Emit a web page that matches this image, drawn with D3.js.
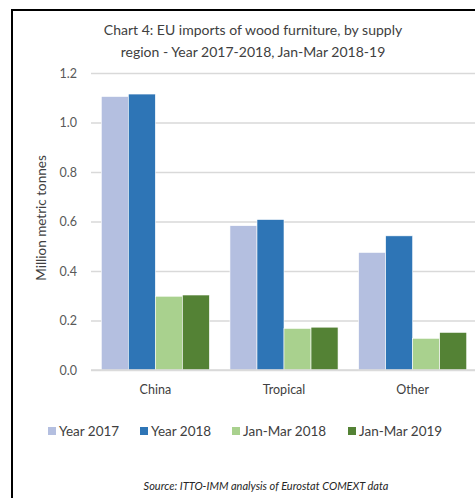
<!DOCTYPE html>
<html>
<head>
<meta charset="utf-8">
<script src="https://cdn.jsdelivr.net/npm/d3@7"></script>
<style>
  body { margin: 0; background: #fff; }
  text { font-family: Lato, "Open Sans", sans-serif; }
</style>
</head>
<body>
<svg id="svg" width="475" height="498"></svg>
<script>
const regions = ['China', 'Tropical', 'Other']
const seriesNames = ['Year 2017', 'Year 2018', 'Jan-Mar 2018', 'Jan-Mar 2019']
const year2017 = [1.105, 0.583, 0.475]
const year2018 = [1.115, 0.608, 0.542]
const janMar2018 = [0.298, 0.168, 0.128]
const janMar2019 = [0.303, 0.173, 0.152]
const yTicks = [0, 0.2, 0.4, 0.6, 0.8, 1.0, 1.2]
const colors = ['#b4bfe0', '#2e75b6', '#a9d18e', '#548235']

const seriesValues = [year2017, year2018, janMar2018, janMar2019]

const svg = d3.select('#svg')
const plotLeft = 91
const plotRight = 477
const plotTop = 73
const plotBottom = 370

// frame
svg.append('path')
  .attr('d', `M12,499 L12,10 L480,10`)
  .attr('fill', 'none')
  .attr('stroke', '#000')
  .attr('stroke-width', 2)

svg.append('text')
  .attr('x', 253).attr('y', 35)
  .attr('text-anchor', 'middle')
  .attr('font-size', 14)
  .attr('fill', '#404040')
  .text('Chart 4: EU imports of wood furniture, by supply')
svg.append('text')
  .attr('x', 253).attr('y', 57)
  .attr('text-anchor', 'middle')
  .attr('font-size', 14)
  .attr('fill', '#404040')
  .text('region - Year 2017-2018, Jan-Mar 2018-19')

const xScale = d3.scaleBand()
  .domain(regions)
  .range([plotLeft, plotRight])
  .paddingInner(0.16)
  .paddingOuter(0.08)

const xInner = d3.scaleBand()
  .domain(seriesNames)
  .range([0, xScale.bandwidth()])

const yScale = d3.scaleLinear()
  .domain([0, 1.2])
  .range([plotBottom, plotTop])

const yAxis = d3.axisLeft(yScale)
  .tickValues(yTicks)
  .tickFormat(d3.format('.1f'))
  .tickSize(-(plotRight - plotLeft))
  .tickPadding(14)

svg.append('g')
  .attr('transform', `translate(${plotLeft}, 0)`)
  .call(yAxis)
  .call(g => g.select('.domain').remove())
  .call(g => g.selectAll('.tick line').attr('stroke', '#d9d9d9').attr('stroke-width', 1.3))
  .call(g => g.selectAll('.tick text').attr('font-size', 12.5).attr('fill', '#595959')
    .attr('font-family', 'Lato, sans-serif'))

svg.append('text')
  .attr('transform', 'translate(46, 218) rotate(-90)')
  .attr('text-anchor', 'middle')
  .attr('font-size', 13.5)
  .attr('fill', '#404040')
  .text('Million metric tonnes')

const groups = svg.append('g')
  .selectAll('g')
  .data(regions)
  .join('g')
  .attr('transform', d => `translate(${xScale(d)}, 0)`)

groups.selectAll('rect')
  .data((d, i) => seriesNames.map((s, j) => ({ s, j, v: seriesValues[j][i] })))
  .join('rect')
  .attr('x', d => xInner(d.s))
  .attr('y', d => yScale(d.v))
  .attr('width', xInner.bandwidth())
  .attr('height', d => plotBottom - yScale(d.v))
  .attr('fill', d => colors[d.j])
  .attr('stroke', '#fff')
  .attr('stroke-width', 0.6)

const xAxis = d3.axisBottom(xScale).tickSize(0).tickPadding(15)
svg.append('g')
  .attr('transform', `translate(0, ${plotBottom})`)
  .call(xAxis)
  .call(g => g.select('.domain').attr('stroke', '#d9d9d9').attr('stroke-width', 1.3)
    .attr('d', `M${plotLeft},0H${plotRight}`))
  .call(g => g.selectAll('.tick text').attr('font-size', 12.5).attr('fill', '#404040')
    .attr('font-family', 'Lato, sans-serif'))

// legend
const legendX = [48, 140, 232, 348]
const legend = svg.append('g')
  .selectAll('g')
  .data(seriesNames)
  .join('g')
  .attr('transform', (d, i) => `translate(${legendX[i]}, 431)`)

legend.append('rect')
  .attr('x', 0).attr('y', -4)
  .attr('width', 8).attr('height', 8)
  .attr('fill', (d, i) => colors[i])
legend.append('text')
  .attr('x', 11).attr('y', 5)
  .attr('font-size', 13.5)
  .attr('fill', '#404040')
  .text(d => d)

svg.append('text')
  .attr('x', 266).attr('y', 490)
  .attr('text-anchor', 'middle')
  .attr('font-size', 11)
  .attr('font-style', 'italic')
  .attr('fill', '#262626')
  .text('Source: ITTO-IMM analysis of Eurostat COMEXT data')
</script>
</body>
</html>
